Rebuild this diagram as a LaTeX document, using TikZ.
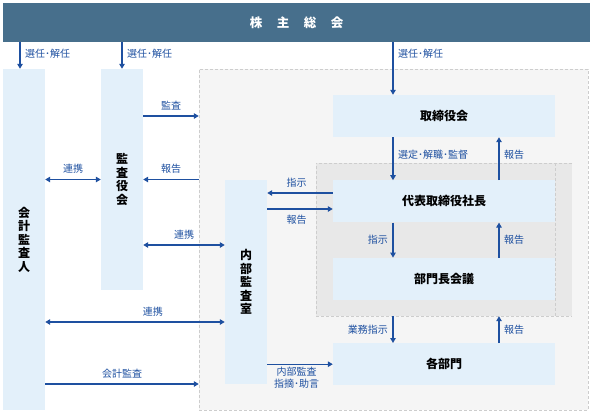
\documentclass[tikz,border=0pt]{standalone}
\usepackage{fontspec}
\setmainfont{Noto Sans CJK JP}
\usetikzlibrary{arrows.meta, positioning}

\definecolor{barblue}{RGB}{71,111,140}
\definecolor{boxblue}{RGB}{227,240,250}
\definecolor{arrblue}{RGB}{30,80,160}
\definecolor{areagrey}{RGB}{245,245,245}
\definecolor{mgmtgrey}{RGB}{232,232,232}
\definecolor{dashgrey}{RGB}{205,205,205}

\begin{document}
\begin{tikzpicture}[x=1pt, y=-1pt,
	every node/.style={font=\fontsize{10}{11.5}\selectfont, inner sep=1.5pt},
	org/.style={fill=boxblue, minimum width=222pt, minimum height=42pt, font=\fontsize{12}{14}\selectfont\bfseries},
	tall/.style={fill=boxblue, minimum width=42pt, align=center, font=\fontsize{12}{13.5}\selectfont\bfseries},
	region/.style={dashgrey, dash pattern=on 3pt off 2pt},
	arrow/.style={-{Triangle[length=5pt,width=5.5pt]}, arrblue, line width=1.1pt},
	both/.style={{Triangle[length=5pt,width=5.5pt]}-{Triangle[length=5pt,width=5.5pt]}, arrblue, line width=1.1pt}
	]
	\useasboundingbox (0,0) rectangle (593,415);
	
	% Shareholders meeting
	\node[fill=barblue, minimum width=587pt, minimum height=39pt, text=white, font=\fontsize{12.5}{14}\selectfont\bfseries] (gm) at (296.5,22.5) {株\hspace{14.5pt}主\hspace{14.5pt}総\hspace{14.5pt}会};
	
	% Company area and management area
	\node[fill=areagrey, draw=dashgrey, dash pattern=on 3pt off 2pt, minimum width=389pt, minimum height=341pt] (area) at (393.5,239.5) {};
	\node[fill=mgmtgrey, minimum width=256pt, minimum height=153pt] (mgmt) at (444,239.5) {};
	
	% Auditors (vertical text)
	\node[tall, minimum height=341pt] (kaikei) at (24,239.5) {会\\計\\監\\査\\人};
	\node[tall, minimum height=221pt] (kansa) at (122,179.5) {監\\査\\役\\会};
	\node[tall, minimum height=204pt] (naibu) at (246,282) {内\\部\\監\\査\\室};
	
	% Right column
	\node[org] (torishimari) at (444,116) {取締役会};
	\node[org, below=43pt of torishimari] (daihyo) {代表取締役社長};
	\node[org, below=35pt of daihyo] (buchokai) {部門長会議};
	\node[org, below=43pt of buchokai] (kakubu) {各部門};
	
	\draw[region] (mgmt.north east) -- (mgmt.north west) -- (mgmt.south west) -- (mgmt.south east);
	\draw[region] (daihyo.east |- mgmt.north) -- (daihyo.east |- mgmt.south);
	
	\coordinate (kin) at ([xshift=-4pt]kaikei.north);
	\coordinate (dn) at (393,0);
	\coordinate (up) at (499,0);
	
	% Appointment
	\draw[arrow] (gm.south -| kin) -- node[right=3pt, yshift=2pt] (sen1) {選任･解任} (kin);
	\draw[arrow] (gm.south -| kansa) -- node[right=3pt, yshift=2pt] (sen2) {選任･解任} (kansa.north);
	\draw[arrow] (gm.south -| dn) -- node[pos=0.22, right=3pt] (sen3) {選任･解任} (torishimari.north -| dn);
	
	% Audit side
	\draw[arrow] (kansa.east |- torishimari) -- node[above=4pt] (kan) {監査} (area.west |- torishimari);
	\draw[arrow] (area.west |- kansa) -- node[above=4pt] (hok1) {報告} (kansa.east);
	\draw[both] (kaikei.east |- kansa) -- node[above=4pt] (ren1) {連携} (kansa.west);
	\draw[both] (kansa.east |- 0,245) -- node[above=4pt] (ren2) {連携} (naibu.west |- 0,245);
	\draw[both] (kaikei.east |- 0,322) -- node[pos=0.6, above=4pt] (ren3) {連携} (naibu.west |- 0,322);
	\draw[arrow] (kaikei.east |- 0,384) -- node[above=4pt] (kai) {会計監査} (area.west |- 0,384);
	
	% Internal audit
	\draw[arrow] (daihyo.west |- 0,193) -- node[pos=0.55, above=4pt] (shi1) {指示} (naibu.east |- 0,193);
	\draw[arrow] (naibu.east |- 0,209) -- node[pos=0.45, below=4pt] (hok2) {報告} (daihyo.west |- 0,209);
	\draw[arrow] (naibu.east |- kakubu) -- node[pos=0.45, below=1pt, align=center] (shiteki) {内部監査\\指摘･助言} (kakubu.west);
	
	% Management chain
	\draw[arrow] (torishimari.south -| dn) -- node[right=3pt, yshift=4pt] (sentei) {選定･解職･監督} (daihyo.north -| dn);
	\draw[arrow] (daihyo.north -| up) -- node[right=3pt, yshift=4pt] (hok3) {報告} (torishimari.south -| up);
	\draw[arrow] (daihyo.south -| dn) -- node[left=3pt] (shi2) {指示} (buchokai.north -| dn);
	\draw[arrow] (buchokai.north -| up) -- node[right=3pt] (hok4) {報告} (daihyo.south -| up);
	\draw[arrow] (mgmt.south -| dn) -- node[left=3pt] (gyomu) {業務指示} (kakubu.north -| dn);
	\draw[arrow] (kakubu.north -| up) -- node[right=3pt] (hok5) {報告} (mgmt.south -| up);
	
\end{tikzpicture}
\end{document}
